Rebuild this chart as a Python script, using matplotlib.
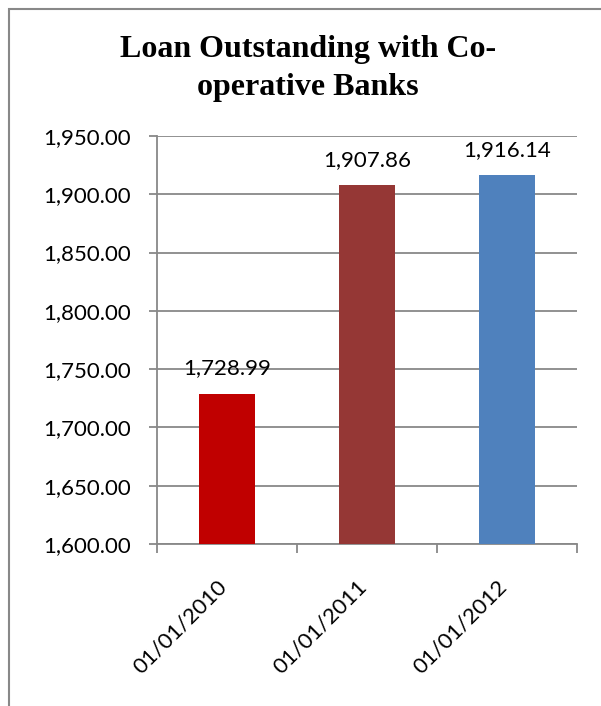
import numpy as np
import matplotlib.pyplot as plt
from matplotlib.patches import Rectangle
from matplotlib.transforms import ScaledTranslation
from matplotlib.ticker import MultipleLocator, FuncFormatter
plt.switch_backend('agg')

# loan outstanding, by year
dates  = ['01/01/2010', '01/01/2011', '01/01/2012']
loans  = [1728.99, 1907.86, 1916.14]
colors = ['#C00000', '#953735', '#4F81BD']

plt.rcParams['font.family'] = ['Lato', 'DejaVu Sans']
W, H = 601, 706
grey = '#888888'

fig = plt.figure(figsize=(W/100, H/100), dpi=100)
# plot area in pixels: x 157..577, y 136..544
ax = fig.add_axes([157/W, 1-544/H, (577-157)/W, (544-136)/H])

# outer chart frame (runs off the right and bottom edge)
fig.patches.append(Rectangle((9/W, -0.05), 1.1, 1.05-9/H, transform=fig.transFigure,
                             fill=False, ec=grey, lw=1.5))

x = np.arange(len(dates))
bars = ax.bar(x, loans, width=0.40, color=colors, zorder=3)

for b, v in zip(bars, loans):
    ax.annotate('{:,.2f}'.format(v), (b.get_x()+b.get_width()/2, v),
                xytext=(0, 11), textcoords='offset points',
                ha='center', va='bottom', fontsize=16, zorder=4)

ax.set_ylim(1600, 1950)
ax.set_xlim(-0.5, 2.5)
ax.yaxis.set_major_locator(MultipleLocator(50))
ax.yaxis.set_major_formatter(FuncFormatter(lambda v, p: '{:,.2f}'.format(v)))
ax.grid(axis='y', color=grey, lw=1.3, zorder=0)

ax.set_xticks(x)
ax.set_xticklabels(dates, rotation=45, ha='right', va='center',
                   rotation_mode='anchor', fontsize=16)
ax.set_xticks([-0.5, 0.5, 1.5, 2.5], minor=True)
ax.tick_params(axis='x', which='major', length=0, pad=28.5)
ax.tick_params(axis='x', which='minor', length=6.5, color=grey, width=1.3)
ax.tick_params(axis='y', length=5.8, color=grey, width=1.3, labelsize=16, pad=13)
shift = ScaledTranslation(-3/100, 0, fig.dpi_scale_trans)
for lab in ax.get_xticklabels():
    lab.set_transform(lab.get_transform() + shift)

for s in ['top', 'right']:
    ax.spines[s].set_visible(False)
for s in ['left', 'bottom']:
    ax.spines[s].set_color(grey)
    ax.spines[s].set_linewidth(1.3)

fig.text(308/W, 1-50/H, 'Loan Outstanding with Co-', ha='center', va='center',
         family='Liberation Serif', weight='bold', fontsize=23)
fig.text(308/W, 1-88/H, 'operative Banks', ha='center', va='center',
         family='Liberation Serif', weight='bold', fontsize=23)

fig.savefig('out.png', dpi=100)
